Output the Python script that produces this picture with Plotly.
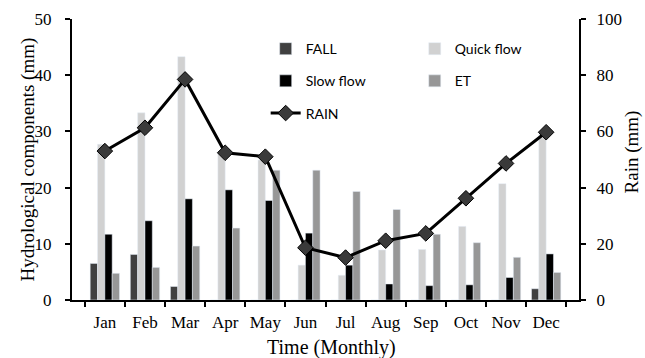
import plotly.graph_objects as go

months = ["Jan", "Feb", "Mar", "Apr", "May", "Jun", "Jul", "Aug", "Sep", "Oct", "Nov", "Dec"]
fall = [6.5, 8.1, 2.4, 0, 0, 0, 0, 0, 0, 0, 0, 2.0]
quick_flow = [27.7, 33.3, 43.3, 26.4, 24.9, 6.2, 4.4, 8.9, 9.0, 13.1, 20.7, 29.5]
slow_flow = [11.7, 14.1, 18.0, 19.6, 17.7, 11.9, 6.2, 2.85, 2.55, 2.7, 4.0, 8.2]
et = [4.75, 5.8, 9.6, 12.8, 23.1, 23.1, 19.3, 16.1, 11.7, 10.2, 7.6, 4.9]
rain = [53.0, 61.3, 78.5, 52.4, 51.0, 18.6, 15.1, 21.1, 23.7, 36.2, 48.6, 59.7]

fig = go.Figure()
fig.add_trace(go.Bar(x=months, y=fall, name="FALL", marker_color="#404040",
                     legend="legend", legendgroup="g1"))
fig.add_trace(go.Bar(x=months, y=quick_flow, name="Quick flow", marker_color="#d1d1d1",
                     legend="legend2", legendgroup="g2"))
fig.add_trace(go.Bar(x=months, y=slow_flow, name="Slow flow", marker_color="#000000",
                     legend="legend", legendgroup="g3"))
fig.add_trace(go.Bar(x=months, y=et, name="ET", marker_color="#979797",
                     legend="legend2", legendgroup="g4"))
fig.add_trace(go.Scatter(x=months, y=rain, name="RAIN", yaxis="y2", mode="lines+markers",
                         line=dict(color="#000000", width=3),
                         marker=dict(symbol="diamond", size=12, color="#3a3a3a",
                                     line=dict(color="#000000", width=1)),
                         legend="legend", legendgroup="g5"))

serif = "Liberation Serif, Times New Roman, serif"
sans = "Lato, Open Sans, sans-serif"
legfont = dict(family=sans, size=14, color="#000")
axline = dict(showline=True, linecolor="#000", linewidth=2, ticks="outside", ticklen=5,
              tickcolor="#000", tickwidth=1.5, automargin=False)

fig.update_layout(
    width=645, height=358,
    margin=dict(l=72, r=66, t=19, b=58),
    paper_bgcolor="white", plot_bgcolor="white",
    barmode="group", bargap=0.27, bargroupgap=0,
    font=dict(family=serif, size=17, color="#000"),
    xaxis=dict(**axline, tickson="boundaries", ticklabelstandoff=6, tickangle=0,
               tickfont=dict(family=serif, size=17)),
    yaxis=dict(**axline, range=[0, 50], dtick=10, showgrid=False, zeroline=False,
               ticklabelstandoff=10, tickfont=dict(family=serif, size=17)),
    yaxis2=dict(**axline, range=[0, 100], dtick=20, overlaying="y", side="right",
                showgrid=False, zeroline=False, ticklabelstandoff=7,
                tickfont=dict(family=serif, size=17)),
    legend=dict(x=0.382, y=0.95, xanchor="left", yanchor="top", bgcolor="rgba(0,0,0,0)",
                font=legfont, tracegroupgap=11, itemwidth=30, traceorder="grouped"),
    legend2=dict(x=0.676, y=0.95, xanchor="left", yanchor="top", bgcolor="rgba(0,0,0,0)",
                 font=legfont, tracegroupgap=11, itemwidth=30, traceorder="grouped"),
    showlegend=True,
    annotations=[
        dict(text="Time (Monthly)", xref="paper", yref="paper", x=0.5, y=0,
             xanchor="center", yanchor="middle", xshift=6, yshift=-47,
             showarrow=False, font=dict(family=serif, size=20)),
        dict(text="Hydrological components (mm)", xref="paper", yref="paper", x=0, y=0.5,
             xanchor="center", yanchor="middle", xshift=-45, textangle=-90,
             showarrow=False, font=dict(family=serif, size=19)),
        dict(text="Rain (mm)", xref="paper", yref="paper", x=1, y=0.525,
             xanchor="center", yanchor="middle", xshift=53, textangle=-90,
             showarrow=False, font=dict(family=serif, size=19)),
    ],
)

fig.write_html("out.html")
